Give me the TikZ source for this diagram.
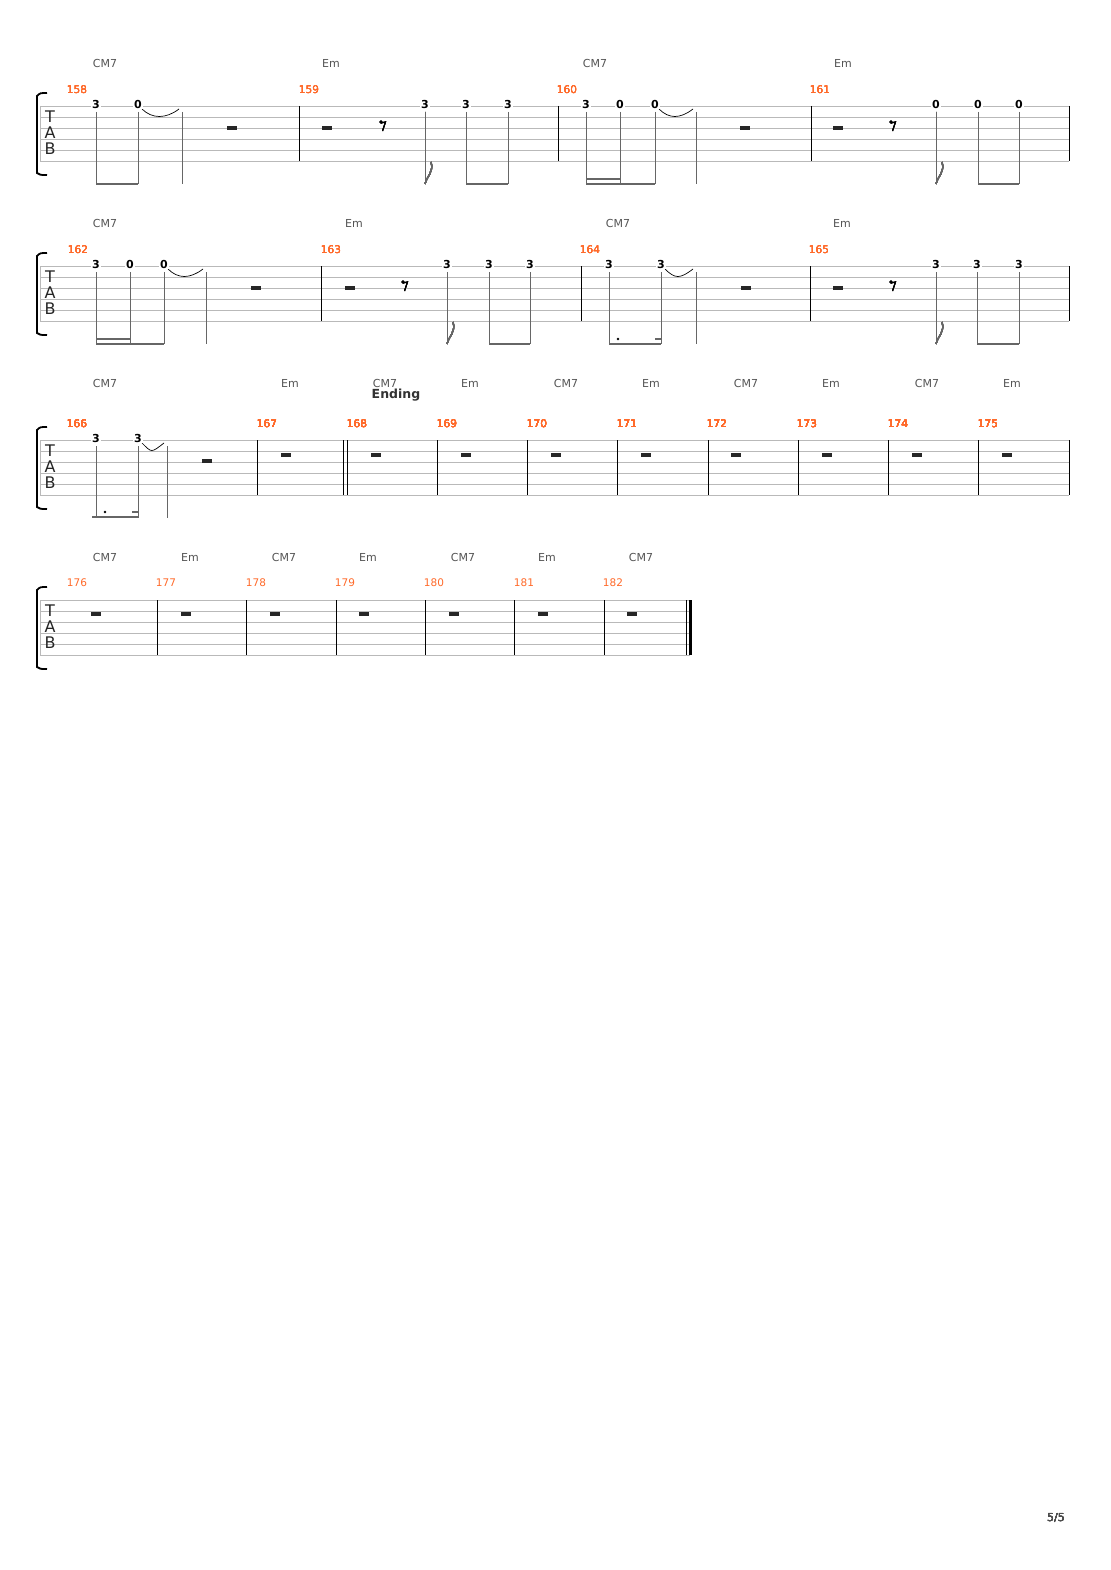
\documentclass[tikz,border=0pt]{standalone}
\usepackage{fontspec}
\setmainfont{DejaVu Sans}
\definecolor{barnum}{HTML}{FF6A2A}
\definecolor{chordgray}{HTML}{555555}
\tikzset{
  strg/.style={gray!55,line width=0.6pt},
  barl/.style={black,line width=0.8pt},
  stm/.style={gray!80!black,line width=0.8pt},
  bm/.style={gray!80!black,line width=2.2pt},
  fretnum/.style={fill=white,inner sep=1pt,font=\bfseries\fontsize{11}{11}\selectfont},
  chord/.style={text=chordgray,font=\fontsize{11}{11}\selectfont},
  mnum/.style={text=barnum,font=\fontsize{10.5}{11}\selectfont},
  tabl/.style={font=\fontsize{16}{16}\selectfont,inner sep=0pt,text=gray!30!black}
}
% staff: top y, left x, right x
\newcommand{\tabstaff}[3]{
  \foreach \k in {0,...,5} \draw[strg] (#2,#1+11*\k) -- (#3,#1+11*\k);
  \draw[line width=1.8pt] (#2+7,#1-13) .. controls (#2,#1-13) .. (#2-3,#1-10) -- (#2-3,#1+67) .. controls (#2,#1+69) .. (#2+7,#1+69);
  \draw[gray!55] (#2,#1) -- (#2,#1+55);
  \node[tabl] at (#2+10,#1+11) {T};
  \node[tabl] at (#2+10,#1+27) {A};
  \node[tabl] at (#2+10,#1+43) {B};
}
\newcommand{\mbar}[2]{\draw[barl] (#1,#2) -- (#1,#2+55);}
\newcommand{\hrest}[2]{\fill[black!85] (#1-5,#2-2.2) rectangle (#1+5,#2+2.2);}
\newcommand{\erest}[2]{\fill (#1-2,#2-3) circle (1.6pt);
  \draw[line width=1pt] (#1-2,#2-2) -- (#1+2.5,#2-3) -- (#1-0.5,#2+6);}
\newcommand{\nstem}[2]{\draw[stm] (#1,#2+6) -- (#1,#2+78);}
\newcommand{\flagstem}[2]{\nstem{#1}{#2}
  \draw[stm,line width=1.2pt] (#1,#2+78) .. controls (#1+2,#2+70) and (#1+9,#2+66) .. (#1+6,#2+56);}
\newcommand{\tie}[3]{\draw[line width=0.7pt] (#1+4,#2+3) .. controls (#1+14,#2+13) and (#3-16,#2+13) .. (#3-3,#2+3);}
\begin{document}
\begin{tikzpicture}[x=1pt,y=-1pt]
\useasboundingbox[fill=white] (0,0) rectangle (1110,1570);
% ---------- system 1
\tabstaff{106}{40}{1069}
\foreach \x in {299,558,811,1069} \mbar{\x}{106}
\foreach \x/\n in {77/158,309/159,567/160,820/161} \node[mnum] (m\n) at (\x,90) {\n};
\foreach \x/\c [count=\i] in {105/CM7,331/Em,595/CM7,843/Em} \node[chord] (ca\i) at (\x,63) {\c};
\foreach \x in {96,138,182,425,466,508,586,620,655,696,936,978,1019} \nstem{\x}{106}
\foreach \x in {425,936} \flagstem{\x}{106}
\draw[bm] (96,184) -- (138,184); \draw[bm] (466,184) -- (508,184);
\draw[bm] (586,184) -- (655,184); \draw[bm] (586,179) -- (620,179);
\draw[bm] (978,184) -- (1019,184);
\tie{138}{106}{182} \tie{655}{106}{696}
\foreach \x in {232,327,745,838} \hrest{\x}{128}
\foreach \x in {383,893} \erest{\x}{125}
\foreach \x/\f [count=\i] in {96/3,138/0,425/3,466/3,508/3,586/3,620/0,655/0,936/0,978/0,1019/0}
  \node[fretnum] (fa\i) at (\x,104) {\f};
% ---------- system 2
\tabstaff{266}{40}{1069}
\foreach \x in {321,581,810,1069} \mbar{\x}{266}
\foreach \x/\n in {78/162,331/163,590/164,819/165} \node[mnum] (m\n) at (\x,250) {\n};
\foreach \x/\c [count=\i] in {105/CM7,354/Em,618/CM7,842/Em} \node[chord] (cb\i) at (\x,223) {\c};
\foreach \x in {96,130,164,206,447,489,530,609,661,696,936,977,1019} \nstem{\x}{266}
\foreach \x in {447,936} \flagstem{\x}{266}
\draw[bm] (96,344) -- (164,344); \draw[bm] (96,339) -- (130,339);
\draw[bm] (489,344) -- (530,344); \draw[bm] (977,344) -- (1019,344);
\draw[bm] (609,344) -- (661,344); \draw[bm] (655,339) -- (661,339);
\fill (618,339) circle (1.3pt);
\tie{164}{266}{206} \tie{661}{266}{696}
\foreach \x in {256,350,746,838} \hrest{\x}{288}
\foreach \x in {405,893} \erest{\x}{285}
\foreach \x/\f [count=\i] in {96/3,130/0,164/0,447/3,489/3,530/3,609/3,661/3,936/3,977/3,1019/3}
  \node[fretnum] (fb\i) at (\x,264) {\f};
% ---------- system 3
\tabstaff{440}{40}{1069}
\foreach \x in {257,343,347,437,527,617,708,798,888,978,1069} \mbar{\x}{440}
\foreach \x/\n in {77/166,267/167,357/168,447/169,537/170,627/171,717/172,807/173,898/174,988/175}
  \node[mnum] (m\n) at (\x,424) {\n};
\foreach \x/\c [count=\i] in {105/CM7,290/Em,385/CM7,470/Em,566/CM7,651/Em,746/CM7,831/Em,927/CM7,1012/Em}
  \node[chord] (cc\i) at (\x,383) {\c};
\node[font=\bfseries\fontsize{12.5}{12}\selectfont,text=black!80] (ending) at (396,395) {Ending};
\foreach \x in {96,138,167} \nstem{\x}{440}
\draw[bm] (92,517) -- (138,517); \draw[bm] (132,512) -- (138,512);
\fill (105,512) circle (1.3pt);
\tie{138}{440}{167}
\hrest{207}{461}
\foreach \x in {286,376,466,556,646,736,827,917,1007} \hrest{\x}{455}
\foreach \x/\f [count=\i] in {96/3,138/3} \node[fretnum] (fc\i) at (\x,438) {\f};
% ---------- system 4
\tabstaff{600}{40}{690}
\foreach \x in {157,246,336,425,514,604,686} \mbar{\x}{600}
\draw[line width=3pt] (690,600) -- (690,655);
\foreach \x/\n in {77/176,166/177,256/178,345/179,434/180,524/181,613/182}
  \node[mnum] (m\n) at (\x,583) {\n};
\foreach \x/\c [count=\i] in {105/CM7,190/Em,284/CM7,368/Em,463/CM7,547/Em,641/CM7}
  \node[chord] (cd\i) at (\x,557) {\c};
\foreach \x in {96,186,275,364,454,543,632} \hrest{\x}{614}
% page
\node[chord,text=black!70] (page) at (1056,1518) {5/5};
\end{tikzpicture}
\end{document}
